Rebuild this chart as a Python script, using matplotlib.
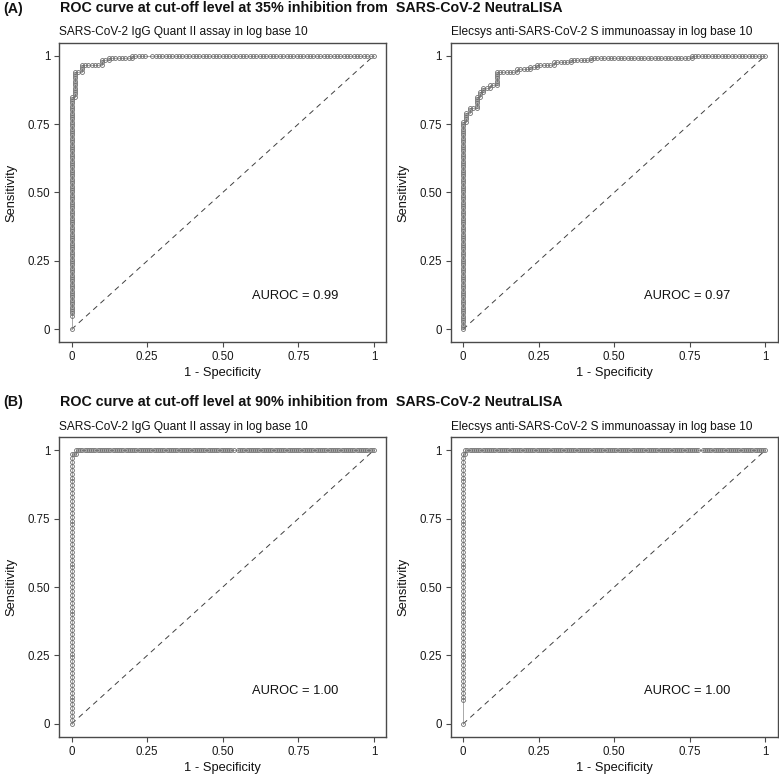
import numpy as np
import matplotlib
matplotlib.use("Agg")
import matplotlib.pyplot as plt

plt.rcParams['font.family'] = ['Liberation Sans', 'DejaVu Sans']

# ---------------- data ----------------
# Ranked outcomes (highest assay value first), run-length encoded as
# (positives at the threshold, negatives at the threshold, number of such thresholds)
runs_a_quant = [(6, 0, 1), (1, 0, 96), (0, 1, 1), (1, 0, 11), (0, 1, 2), (1, 0, 3),
                (0, 1, 6), (1, 0, 2), (0, 1, 2), (1, 0, 1), (0, 1, 7), (1, 0, 1),
                (0, 1, 4), (0, 2, 1), (0, 1, 66)]
runs_a_elecsys = [(1, 0, 91), (0, 1, 1), (1, 0, 4), (0, 1, 1), (1, 0, 2), (0, 1, 2),
                  (1, 0, 5), (0, 1, 1), (1, 0, 2), (0, 1, 1), (1, 0, 2), (0, 1, 2),
                  (1, 0, 1), (0, 1, 2), (1, 0, 6), (0, 1, 6), (1, 0, 1), (0, 1, 4),
                  (1, 0, 1), (0, 1, 2), (1, 0, 1), (0, 1, 5), (1, 0, 1), (0, 1, 5),
                  (1, 0, 1), (0, 1, 6), (1, 0, 1), (0, 1, 30), (1, 0, 1), (0, 1, 22)]
runs_b_quant = [(1, 0, 69), (0, 1, 2), (1, 0, 1), (0, 1, 73), (0, 2, 1), (0, 1, 63)]
runs_b_elecsys = [(6, 0, 1), (1, 0, 63), (0, 1, 1), (1, 0, 1), (0, 1, 108), (0, 2, 1),
                  (0, 1, 29)]

auroc_labels = ["AUROC = 0.99", "AUROC = 0.97", "AUROC = 1.00", "AUROC = 1.00"]
subtitles = ["SARS-CoV-2 IgG Quant II assay in log base 10",
             "Elecsys anti-SARS-CoV-2 S immunoassay in log base 10"]
row_tags = ["(A)", "(B)"]
row_titles = ["ROC curve at cut-off level at 35% inhibition from  SARS-CoV-2 NeutraLISA",
              "ROC curve at cut-off level at 90% inhibition from  SARS-CoV-2 NeutraLISA"]
tick_vals = [0, 0.25, 0.5, 0.75, 1]
tick_labels = ["0", "0.25", "0.50", "0.75", "1"]


def roc_points(runs):
    dp = [0]
    dn = [0]
    for p, n, r in runs:
        dp += [p] * r
        dn += [n] * r
    tp = np.cumsum(dp)
    fp = np.cumsum(dn)
    return fp / fp[-1], tp / tp[-1]


W = 779
fig = plt.figure(figsize=(W / 100, W / 100), dpi=100)

def px_axes(left, top, width, height):
    return fig.add_axes([left / W, 1 - (top + height) / W, width / W, height / W])

panels = [
    (runs_a_quant, 59.5, 42.7, 0, 0),
    (runs_a_elecsys, 451.0, 42.7, 1, 0),
    (runs_b_quant, 59.5, 437.3, 0, 1),
    (runs_b_elecsys, 451.0, 437.3, 1, 1),
]
AW, AH = 326.5, 299.5
box_col = '#4a4a4a'

for i, (runs, left, top, col, row) in enumerate(panels):
    ax = px_axes(left, top, AW, AH)
    fpr, tpr = roc_points(runs)
    ax.plot([0, 1], [0, 1], color='#404040', lw=0.7, dashes=(5.5, 4.5), zorder=1)
    ax.plot(fpr, tpr, color='#9a9a9a', lw=0.6, zorder=2)
    ax.plot(fpr, tpr, ls='none', marker='o', ms=2.8, mfc='none', mec='#6e6e6e',
            mew=0.6, zorder=3)
    ax.set_xlim(-0.04, 1.04)
    ax.set_ylim(-0.047, 1.047)
    ax.set_xticks(tick_vals)
    ax.set_xticklabels(tick_labels)
    ax.set_yticks(tick_vals)
    ax.set_yticklabels(tick_labels)
    ax.tick_params(direction='out', length=3.6, width=0.8, color=box_col,
                   labelsize=8.3, pad=3.0, labelcolor='#1a1a1a')
    for s in ax.spines.values():
        s.set_color(box_col)
        s.set_linewidth(1.0)
    ax.text(0.74, 0.12, auroc_labels[i], ha='center', va='center', fontsize=9.3,
            color='#111111')
    ax.text(0.0, 1.0 + 4.5 / AH, subtitles[col], transform=ax.transAxes,
            ha='left', va='bottom', fontsize=8.6, color='#111111')
    # axis labels
    fig.text((left - 48) / W, 1 - (top + AH / 2) / W, "Sensitivity", rotation=90,
             ha='center', va='center', fontsize=9.3, color='#111111')
    fig.text((left + AW / 2) / W, 1 - (top + AH + 31) / W, "1 - Specificity",
             ha='center', va='center', fontsize=9.3, color='#111111')

for row, yc in enumerate([8.5, 401.5]):
    fig.text(3 / W, 1 - yc / W, row_tags[row], ha='left', va='center',
             fontsize=10.3, fontweight='bold', color='#111111')
    fig.text(60 / W, 1 - yc / W, row_titles[row], ha='left', va='center',
             fontsize=10.3, fontweight='bold', color='#111111')

fig.savefig("out.png", dpi=100, facecolor='white')
